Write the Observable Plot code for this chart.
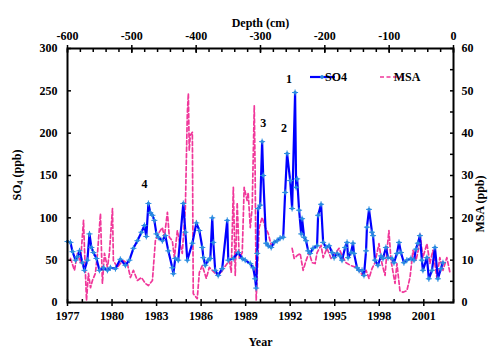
<!DOCTYPE html>
<html><head><meta charset="utf-8">
<script src="https://cdn.jsdelivr.net/npm/d3@7"></script>
<script src="https://cdn.jsdelivr.net/npm/@observablehq/plot@0.6"></script>
<style>body{margin:0;background:#fff}</style>
</head><body><div id="chart"></div>
<script>
const so4Year = [1977.0,1977.2,1977.34,1977.54,1977.67,1977.81,1978.01,1978.14,1978.34,1978.48,
1978.61,1978.75,1978.95,1979.15,1979.42,1979.69,1979.89,1980.23,1980.56,1980.9,
1981.17,1981.44,1981.71,1981.98,1982.18,1982.31,1982.45,1982.58,1982.72,1982.85,
1982.99,1983.12,1983.39,1983.59,1983.79,1984.06,1984.13,1984.26,1984.46,1984.8,
1984.94,1985.07,1985.41,1985.68,1985.88,1986.08,1986.15,1986.28,1986.48,1986.62,
1986.75,1986.82,1986.95,1987.15,1987.42,1987.76,1987.83,1988.16,1988.5,1988.77,
1988.97,1989.31,1989.51,1989.64,1989.71,1989.78,1989.84,1989.98,1990.11,1990.18,
1990.38,1990.52,1990.72,1990.92,1991.12,1991.32,1991.53,1991.66,1991.79,1992.0,
1992.13,1992.33,1992.4,1992.47,1992.6,1992.74,1992.8,1992.94,1993.07,1993.21,
1993.34,1993.54,1993.81,1993.88,1994.08,1994.22,1994.42,1994.62,1994.82,1994.96,
1995.16,1995.36,1995.49,1995.7,1995.83,1995.9,1996.1,1996.23,1996.3,1996.5,
1996.64,1996.84,1996.97,1997.11,1997.17,1997.31,1997.51,1997.58,1997.71,1997.91,
1998.12,1998.25,1998.45,1998.59,1998.86,1998.99,1999.19,1999.33,1999.46,1999.66,
1999.86,2000.13,2000.34,2000.47,2000.6,2000.74,2000.87,2000.94,2001.21,2001.34,
2001.55,2001.75,2001.95,2002.15,2002.29];
const so4Value = [72,71,60,50,54,61,47,38,50,81,
65,59,52,38,41,38,41,40,51,44,
50,64,73,83,91,78,117,106,103,97,
81,77,73,79,61,41,34,52,50,117,
83,50,70,94,85,65,53,44,50,52,
100,71,38,32,40,97,50,52,59,52,
50,46,41,28,17,58,111,115,190,150,
70,67,65,71,73,76,77,130,176,144,
111,248,136,146,109,81,99,77,73,61,
58,64,67,103,116,71,65,67,59,53,
58,55,50,65,71,53,59,70,58,41,
38,38,32,61,89,110,83,79,50,44,
55,52,65,53,52,47,58,71,59,47,
50,52,50,63,70,79,50,38,53,28,
38,65,28,40,47];

const msaYear = [1977.2,1977.47,1977.67,1977.87,1978.08,1978.14,1978.28,1978.41,1978.55,1978.68,
1978.88,1979.02,1979.22,1979.35,1979.49,1979.69,1979.82,1980.03,1980.09,1980.36,
1980.56,1980.77,1981.03,1981.24,1981.44,1981.71,1981.98,1982.25,1982.45,1982.72,
1982.92,1983.12,1983.39,1983.52,1983.73,1983.86,1984.06,1984.2,1984.4,1984.53,
1984.73,1984.94,1985.07,1985.14,1985.2,1985.27,1985.41,1985.47,1985.74,1985.88,
1986.08,1986.35,1986.55,1986.89,1987.09,1987.36,1987.56,1987.9,1988.03,1988.17,
1988.3,1988.43,1988.57,1988.77,1988.9,1989.1,1989.17,1989.31,1989.44,1989.58,
1989.64,1989.71,1989.78,1989.91,1990.11,1990.32,1990.52,1990.72,1990.92,
1991.5,
1992.13,1992.27,1992.47,1992.67,1992.87,1993.07,1993.27,1993.48,1993.68,1993.81,
1994.08,1994.22,1994.48,1994.75,1995.09,1995.29,1995.49,1995.76,1996.1,1996.43,
1996.77,1996.91,1997.11,1997.31,1997.51,1997.71,1997.98,1998.18,1998.39,1998.52,
1998.65,1998.79,1999.06,1999.19,1999.39,1999.6,1999.86,2000.07,2000.27,2000.47,
2000.67,2000.74,2000.94,2001.21,2001.41,2001.61,2001.88,2002.08,2002.29,2002.55,
2002.76];
const msaValue = [10.4,7.6,11.6,9.4,19.4,13.0,0.5,6.9,3.5,5.2,
6.9,11.6,21.0,4.5,11.6,8.3,11.6,22.2,9.9,8.3,
9.2,9.9,9.2,5.9,7.6,5.2,5.9,4.5,4.0,5.2,
14.6,16.3,17.7,15.4,21.3,15.4,14.6,10.6,17.0,14.6,
11.6,22.4,44.6,49.4,35.9,39.5,40.2,2.1,0.9,7.1,
8.7,5.7,8.3,7.1,6.4,7.1,8.3,9.9,7.1,27.2,
6.4,23.6,10.4,11.8,27.2,24.1,26.0,17.7,22.4,46.5,
30.5,0.5,6.9,17.7,20.1,17.7,16.3,13.5,14.2,
null,
12.8,10.4,11.1,11.6,7.6,9.9,11.8,9.4,9.2,11.8,
13.5,10.6,12.8,10.4,11.8,12.8,11.1,9.4,8.7,8.3,
6.9,6.4,7.6,5.7,8.0,9.4,13.9,9.2,6.4,12.3,
17.0,9.9,4.5,9.2,2.8,2.4,2.8,5.9,12.3,9.9,
13.0,16.3,10.6,13.9,9.2,12.3,5.9,10.6,7.6,10.6,
7.1];

const yearTicks = [1977,1980,1983,1986,1989,1992,1995,1998,2001];
const yearMinor = d3.range(1977, 2004);
const depthTicks = [-600,-500,-400,-300,-200,-100,0];
const depthMinor = d3.range(-600, 1, 20);
const so4Ticks = [0,50,100,150,200,250,300];
const msaTicks = [0,10,20,30,40,50,60];
const msaMinor = d3.range(0, 61, 5);
const peakLabel = ["1","2","3","4"];
const peakYear = [1992.33,1991.79,1990.11,1982.45];
const peakValue = [248,176,190,117];
const peakDx = [-6,-3,1,-4];
const peakDy = [-13,-25,-18,-19];

// depth (cm) -600..0 spans the same width as 1977..2003
const depthToYear = d => 1977 + (d + 600) * 26 / 600;
const msaToSo4 = v => v * 5;

const so4 = so4Year.map((y, i) => ({year: y, v: so4Value[i]}));
const msa = msaYear.map((y, i) => ({year: y, v: msaValue[i] == null ? null : msaToSo4(msaValue[i])}));
const peaks = peakLabel.map((t, i) => ({t, year: peakYear[i], v: peakValue[i], dx: peakDx[i], dy: peakDy[i]}));

const FONT = "'Liberation Serif', 'Times New Roman', serif";
const blank = () => "";

const plot = Plot.plot({
  width: 490, height: 350,
  marginLeft: 67, marginRight: 37, marginTop: 48, marginBottom: 48,
  style: {fontFamily: FONT, fontSize: "12px", fontWeight: "bold", color: "black", background: "white"},
  x: {domain: [1977, 2003]},
  y: {domain: [0, 300]},
  marks: [
    Plot.line(msa, {x: "year", y: "v", stroke: "#f0379a", strokeWidth: 1.7, strokeDasharray: "4,2.5"}),
    Plot.line(so4, {x: "year", y: "v", stroke: "#0000ff", strokeWidth: 2.2}),
    Plot.dot(so4, {x: "year", y: "v", r: 1.7, fill: "#2b8ce0"}),
    Plot.dot(so4, {x: "year", y: "v", r: 2.1, symbol: "plus", stroke: "#2b8ce0", strokeWidth: 1}),
    ...peaks.map(p => Plot.text([p], {x: "year", y: "v", text: "t", dx: p.dx, dy: p.dy, fontSize: 12, fontWeight: "bold"})),
    // bottom axis
    Plot.axisX(yearTicks, {anchor: "bottom", tickSize: 0, tickPadding: 9, label: null, tickFormat: d => String(d)}),
    Plot.axisX(yearTicks, {anchor: "bottom", tickSize: 4, tickFormat: blank, label: null, strokeWidth: 1.5}),
    Plot.axisX(yearMinor, {anchor: "bottom", tickSize: -3, tickFormat: blank, label: null, strokeWidth: 1.5}),
    // top axis (depth)
    Plot.axisX(depthTicks.map(depthToYear), {anchor: "top", tickSize: 0, tickPadding: 9, label: null,
      tickFormat: y => String(Math.round((y - 1977) * 600 / 26 - 600))}),
    Plot.axisX(depthTicks.map(depthToYear), {anchor: "top", tickSize: 4, tickFormat: blank, label: null, strokeWidth: 1.5}),
    Plot.axisX(depthTicks.map(depthToYear), {anchor: "top", tickSize: -4, tickFormat: blank, label: null, strokeWidth: 1.5}),
    Plot.axisX(depthMinor.map(depthToYear), {anchor: "top", tickSize: -3, tickFormat: blank, label: null, strokeWidth: 1.5}),
    // left axis
    Plot.axisY(so4Ticks, {anchor: "left", tickSize: 0, tickPadding: 10, label: null, tickFormat: d => String(d)}),
    Plot.axisY(so4Ticks, {anchor: "left", tickSize: -4, tickFormat: blank, label: null, strokeWidth: 1.5}),
    // right axis (MSA)
    Plot.axisY(msaTicks.map(msaToSo4), {anchor: "right", tickSize: 0, tickPadding: 8, label: null,
      tickFormat: y => String(Math.round(y / 5))}),
    Plot.axisY(msaMinor.map(msaToSo4), {anchor: "right", tickSize: -4, tickFormat: blank, label: null, strokeWidth: 1.5}),
    Plot.frame({stroke: "black", strokeWidth: 2}),
    Plot.text(["Year"], {frameAnchor: "bottom", dy: 43, text: d => d, fontSize: 12, fontWeight: "bold"}),
    Plot.text(["Depth (cm)"], {frameAnchor: "top", dy: -30, text: d => d, fontSize: 12, fontWeight: "bold"}),
    Plot.text(["MSA (ppb)"], {frameAnchor: "right", dx: 27, text: d => d, rotate: -90, fontSize: 12, fontWeight: "bold"})
  ]
});
document.getElementById("chart").appendChild(plot);

// left axis title with subscript, and legend
const svg = d3.select(plot);
const lt = svg.append("text")
  .attr("transform", "translate(18,175) rotate(-90)")
  .attr("text-anchor", "middle")
  .attr("dominant-baseline", "middle")
  .style("font-family", FONT).style("font-size", "12px").style("font-weight", "bold");
lt.append("tspan").text("SO");
lt.append("tspan").text("4").attr("font-size", "8px").attr("dy", "3");
lt.append("tspan").text(" (ppb)").attr("dy", "-3");

const lg = svg.append("g").style("font-family", FONT).style("font-size", "12px").style("font-weight", "bold");
lg.append("line").attr("x1", 310).attr("x2", 335).attr("y1", 77).attr("y2", 77)
  .attr("stroke", "#0000ff").attr("stroke-width", 2.2);
lg.append("circle").attr("cx", 322).attr("cy", 77).attr("r", 1.7).attr("fill", "#2b8ce0");
lg.append("path").attr("d", "M320,77h4M322,75v4").attr("stroke", "#2b8ce0").attr("stroke-width", 1);
lg.append("text").attr("x", 336).attr("y", 81).text("SO4");
lg.append("line").attr("x1", 380).attr("x2", 405).attr("y1", 77).attr("y2", 77)
  .attr("stroke", "#f0379a").attr("stroke-width", 1.7).attr("stroke-dasharray", "4,2.5");
lg.append("text").attr("x", 407).attr("y", 81).text("MSA");
</script>
</body></html>
